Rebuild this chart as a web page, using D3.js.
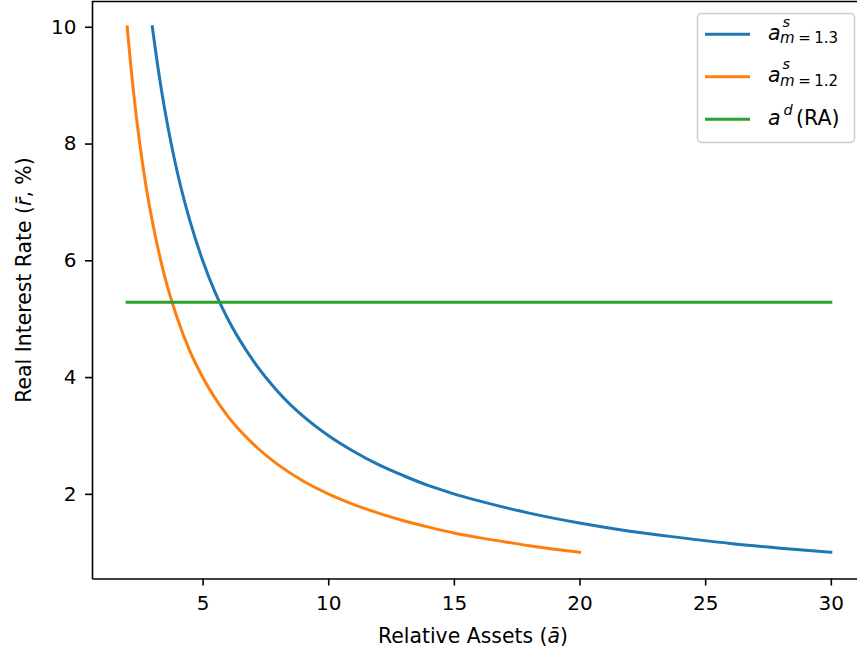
<!DOCTYPE html>
<html>
<head>
<meta charset="utf-8">
<script src="https://cdn.jsdelivr.net/npm/d3@7"></script>
<style>
  html, body { margin: 0; padding: 0; background: #fff; }
  svg { display: block; font-family: "DejaVu Sans", sans-serif; }
</style>
</head>
<body>
<svg id="chart" width="857" height="654"></svg>
<script>
// ---- data ----
const blueA   = [3, 3.25, 3.5, 3.75, 4, 4.5, 5, 5.5, 6, 7, 8, 9, 10, 11, 12, 13, 14, 15, 16, 18, 20, 22, 24, 26, 28, 30];
const blueR   = [10, 9.23, 8.57, 8.0, 7.5, 6.67, 6.0, 5.45, 5.0, 4.29, 3.75, 3.33, 3.0, 2.73, 2.5, 2.31, 2.14, 2.0, 1.88, 1.67, 1.5, 1.36, 1.25, 1.15, 1.07, 1.0];
const orangeA = [2, 2.25, 2.5, 2.75, 3, 3.5, 4, 4.5, 5, 6, 7, 8, 9, 10, 11, 12, 13, 14, 15, 16, 17, 18, 19, 20];
const orangeR = [10, 8.89, 8.0, 7.27, 6.67, 5.71, 5.0, 4.44, 4.0, 3.33, 2.86, 2.5, 2.22, 2.0, 1.82, 1.67, 1.54, 1.43, 1.33, 1.25, 1.18, 1.11, 1.05, 1.0];
const greenA  = [2, 30];
const greenR  = [5.28, 5.28];
const xTicks  = [5, 10, 15, 20, 25, 30];
const yTicks  = [2, 4, 6, 8, 10];
const xDomain = [0.6, 31.4];
const yDomain = [0.55, 10.45];
const colors  = ["#1f77b4", "#ff7f0e", "#2ca02c"];

const svg = d3.select("#chart");
const L = 92, R = 866, T = 0.5, B = 578.5;
const x = d3.scaleLinear().domain(xDomain).range([L, R]);
const y = d3.scaleLinear().domain(yDomain).range([B, T]);

// series
const series = [
  {a: blueA, r: blueR, c: colors[0]},
  {a: orangeA, r: orangeR, c: colors[1]},
  {a: greenA, r: greenR, c: colors[2]}
];
const line = d3.line().x(d => x(d[0])).y(d => y(d[1])).curve(d3.curveMonotoneX);
const plot = svg.append("g");
series.forEach(s => {
  plot.append("path")
    .datum(s.a.map((v, i) => [v, s.r[i]]))
    .attr("d", line)
    .attr("fill", "none")
    .attr("stroke", s.c)
    .attr("stroke-width", 3)
    .attr("stroke-linecap", "square")
    .attr("stroke-linejoin", "round");
});

// axes
const xAxis = svg.append("g").attr("transform", `translate(0,${B})`)
  .call(d3.axisBottom(x).tickValues(xTicks).tickSize(7).tickSizeOuter(0).tickPadding(10).tickFormat(d3.format("d")));
const yAxis = svg.append("g").attr("transform", `translate(${L},0)`)
  .call(d3.axisLeft(y).tickValues(yTicks).tickSize(7).tickSizeOuter(0).tickPadding(8.5).tickFormat(d3.format("d")));
[xAxis, yAxis].forEach(g => {
  g.select(".domain").attr("stroke", "#000").attr("stroke-width", 1.6);
  g.selectAll(".tick line").attr("stroke", "#000").attr("stroke-width", 1.6);
  g.selectAll(".tick text").attr("fill", "#000").style("font-size", "20px").style("font-family", "DejaVu Sans");
});
// top & right spines
svg.append("line").attr("x1", L).attr("x2", R).attr("y1", T + 1).attr("y2", T + 1)
  .attr("stroke", "#000").attr("stroke-width", 1.6);
svg.append("line").attr("x1", R).attr("x2", R).attr("y1", T).attr("y2", B)
  .attr("stroke", "#000").attr("stroke-width", 1.6);

// axis labels
const xl = svg.append("text").attr("x", 473).attr("y", 642.5).attr("text-anchor", "middle")
  .style("font-size", "20.4px").attr("fill", "#000");
xl.append("tspan").text("Relative Assets (");
xl.append("tspan").attr("font-style", "italic").text("ā");
xl.append("tspan").text(")");

const yl = svg.append("text").attr("transform", "translate(31,280) rotate(-90)").attr("text-anchor", "middle")
  .style("font-size", "20.4px").attr("fill", "#000");
yl.append("tspan").text("Real Interest Rate (");
yl.append("tspan").attr("font-style", "italic").text("r\u0304");
yl.append("tspan").text(", %)");

// legend
const lg = svg.append("g");
lg.append("rect").attr("x", 697.5).attr("y", 13.5).attr("width", 157).attr("height", 129)
  .attr("rx", 4).attr("fill", "#fff").attr("fill-opacity", 0.8)
  .attr("stroke", "#cccccc").attr("stroke-width", 1.5);
const rowsY = [34.3, 76.7, 119.3];
const baseY = [40, 82.4, 125];
rowsY.forEach((ry, i) => {
  lg.append("line").attr("x1", 705).attr("x2", 750).attr("y1", ry).attr("y2", ry)
    .attr("stroke", colors[i]).attr("stroke-width", 3);
});
function subLabel(i, num) {
  const b = baseY[i];
  lg.append("text").attr("x", 768).attr("y", b).attr("font-style", "italic")
    .style("font-size", "20.5px").attr("fill", "#000").text("a");
  lg.append("text").attr("x", 782.5).attr("y", b - 13.3).attr("font-style", "italic")
    .style("font-size", "14.5px").attr("fill", "#000").text("s");
  const t = lg.append("text").attr("x", 780).attr("y", b + 3.3)
    .style("font-size", "15px").attr("fill", "#000");
  t.append("tspan").attr("font-style", "italic").text("m");
  t.append("tspan").attr("dx", 3.5).text("=");
  t.append("tspan").attr("dx", 3.5).text(num);
}
subLabel(0, "1.3");
subLabel(1, "1.2");
lg.append("text").attr("x", 768).attr("y", baseY[2]).attr("font-style", "italic")
  .style("font-size", "20.5px").attr("fill", "#000").text("a");
lg.append("text").attr("x", 783.5).attr("y", baseY[2] - 10).attr("font-style", "italic")
  .style("font-size", "14.5px").attr("fill", "#000").text("d");
lg.append("text").attr("x", 796).attr("y", baseY[2])
  .style("font-size", "20.5px").attr("fill", "#000").text("(RA)");
</script>
</body>
</html>
